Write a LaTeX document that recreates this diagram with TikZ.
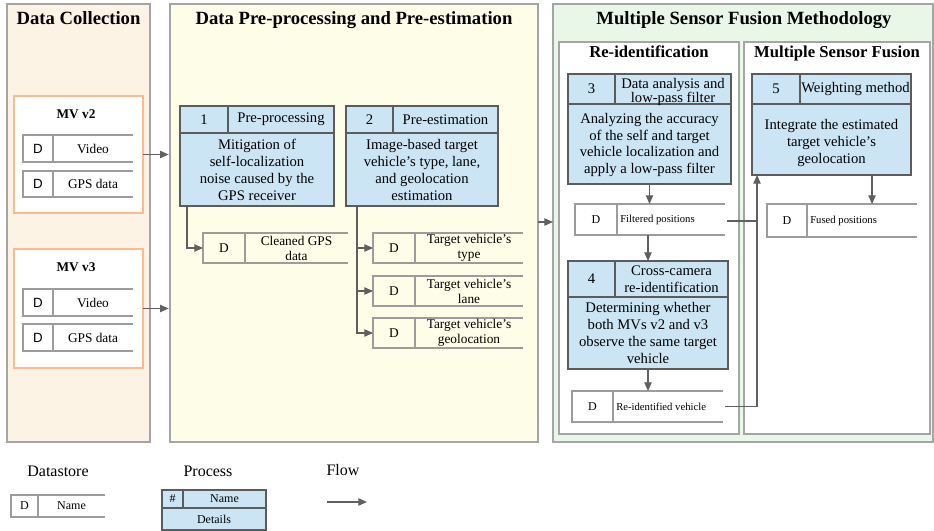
\documentclass[tikz,border=0pt]{standalone}
\usepackage{fontspec}
\setmainfont{Liberation Serif}[BoldFont={Liberation Serif Bold}, ItalicFont={Liberation Serif Italic}]
\newfontfamily\dssans{Liberation Sans}
\usetikzlibrary{arrows.meta,fit,calc}

\definecolor{dcfill}{HTML}{FDF3E4}
\definecolor{prefill}{HTML}{FDFDE8}
\definecolor{msffill}{HTML}{E9F7E9}
\definecolor{procfill}{HTML}{CCE5F4}
\definecolor{mvline}{HTML}{FDBA90}
\definecolor{panelline}{HTML}{A5A5A5}
\definecolor{dsline}{HTML}{9C9C9C}
\definecolor{procline}{HTML}{5C5C5C}
\definecolor{flowline}{HTML}{606060}

\tikzset{
  region/.style={inner sep=0pt, outer sep=0pt},
  panel/.style={draw=panelline, line width=1.1pt},
  ptitle/.style={font=\fontsize{14}{16}\selectfont\bfseries, anchor=base, inner sep=0pt},
  stitle/.style={font=\fontsize{12.5}{14}\selectfont\bfseries, anchor=base, inner sep=0pt},
  mvtitle/.style={font=\fontsize{10}{12}\selectfont\bfseries, anchor=base, inner sep=0pt},
  mvbox/.style={draw=mvline, line width=2.2pt, fill=white},
  dsedge/.style={draw=dsline, line width=1.3pt},
  dslabel/.style={inner sep=0pt},
  dstext/.style={font=\fontsize{10}{11.25}\selectfont, align=center, inner sep=0pt},
  dssmall/.style={font=\fontsize{8}{9}\selectfont, anchor=west, inner sep=0pt},
  procedge/.style={draw=procline, line width=0.9pt},
  ptext/.style={font=\fontsize{11}{12.75}\selectfont, align=center, inner sep=0pt},
  ltitle/.style={font=\fontsize{12}{14}\selectfont, anchor=base, inner sep=0pt},
  ltext/.style={font=\fontsize{9}{10}\selectfont, inner sep=0pt},
  flow/.style={draw=flowline, line width=0.9pt, -{Triangle[length=6.5pt,width=5.5pt]}},
  conn/.style={draw=flowline, line width=0.9pt},
}

% a named rectangle drawn with the given style
\newcommand\boxat[6]{%
  \coordinate (#1-nw) at (#2,#3);
  \coordinate (#1-se) at (#4,#5);
  \node[region, fit=(#1-nw)(#1-se)] (#1) {};
  \draw[#6] (#1.north west) rectangle (#1.south east);
}

% datastore: open on the right, "D" cell on the left
\newcommand\dstore[7]{% name, left, top, right, bottom, divider x, D font
  \coordinate (#1-nw) at (#2,#3);
  \coordinate (#1-se) at (#4,#5);
  \node[region, fit=(#1-nw)(#1-se)] (#1) {};
  \draw[dsedge] (#1.north east) -- (#1.north west) -- (#1.south west) -- (#1.south east);
  \draw[dsedge] (#6,#3) -- (#6,#5);
  \node[dslabel, font=#7] (#1-d) at ({(#2+#6)/2},{(#3+#5)/2}) {D};
  \coordinate (#1-t) at ({(#6+#4)/2},{(#3+#5)/2});
  \coordinate (#1-l) at ({#6+3},{(#3+#5)/2});
}

% process: number cell and name in the header, details below
\newcommand\proc[7]{% name, left, top, right, bottom, header bottom, divider x
  \boxat{#1}{#2}{#3}{#4}{#5}{procedge, fill=procfill}
  \draw[procedge] (#2,#6) -- (#4,#6);
  \draw[procedge] (#7,#3) -- (#7,#6);
  \coordinate (#1-n) at ({(#2+#7)/2},{(#3+#6)/2});
  \coordinate (#1-h) at ({(#7+#4)/2},{(#3+#6)/2});
  \coordinate (#1-b) at ({(#2+#4)/2},{(#6+#5)/2});
}

\begin{document}
\begin{tikzpicture}[x=0.75pt,y=-0.75pt]
\useasboundingbox (0,0) rectangle (934,531);

% ---------- panels ----------
\boxat{pdc}{7}{4}{150}{442}{panel, fill=dcfill}
\boxat{ppre}{170}{4}{538}{442}{panel, fill=prefill}
\boxat{pmsf}{553}{4}{933}{442}{panel, fill=msffill}
\boxat{preid}{559}{42}{739}{434}{panel, fill=white}
\boxat{pfus}{744}{42}{930}{434}{panel, fill=white}

\node[ptitle] (tdc) at (78.5,25) {Data Collection};
\node[ptitle] (tpre) at (354,25) {Data Pre-processing and Pre-estimation};
\node[ptitle] (tmsf) at (744,25) {Multiple Sensor Fusion Methodology};
\node[stitle] (treid) at (649,58) {Re-identification};
\node[stitle] (tfus) at (837,58) {Multiple Sensor Fusion};

% ---------- data collection ----------
\boxat{mv2}{14}{96}{143}{213}{mvbox}
\node[mvtitle] (tmv2) at (76,118) {MV v2};
\dstore{v2vid}{23}{135}{133}{162}{53}{\dssans\fontsize{10}{11}\selectfont}
\node[dstext] (v2vidt) at (v2vid-t) {Video};
\dstore{v2gps}{23}{171}{133}{197}{53}{\dssans\fontsize{10}{11}\selectfont}
\node[dstext] (v2gpst) at (v2gps-t) {GPS data};

\boxat{mv3}{14}{249}{143}{368}{mvbox}
\node[mvtitle] (tmv3) at (76,271) {MV v3};
\dstore{v3vid}{23}{289}{133}{316}{53}{\dssans\fontsize{10}{11}\selectfont}
\node[dstext] (v3vidt) at (v3vid-t) {Video};
\dstore{v3gps}{23}{324}{133}{351}{53}{\dssans\fontsize{10}{11}\selectfont}
\node[dstext] (v3gpst) at (v3gps-t) {GPS data};

% ---------- pre-processing and pre-estimation ----------
\proc{p1}{180}{106}{334}{206}{133}{228}
\node[ptext] (p1n) at (p1-n) {1};
\node[ptext] (p1h) at (p1-h) {Pre-processing};
\node[ptext] (p1b) at (p1-b) {Mitigation of\\self-localization\\noise caused by the\\GPS receiver};

\proc{p2}{346}{106}{498}{206}{133}{393}
\node[ptext] (p2n) at (p2-n) {2};
\node[ptext] (p2h) at (p2-h) {Pre-estimation};
\node[ptext] (p2b) at (p2-b) {Image-based target\\vehicle’s type, lane,\\and geolocation\\estimation};

\dstore{cgps}{203}{233}{348}{263}{245}{\fontsize{10}{11}\selectfont}
\node[dstext] (cgpst) at (cgps-t) {Cleaned GPS\\data};
\dstore{ttype}{373}{233}{523}{263}{415}{\fontsize{10}{11}\selectfont}
\node[dstext] (ttypet) at (ttype-t) {Target vehicle’s\\type};
\dstore{tlane}{373}{276}{523}{306}{415}{\fontsize{10}{11}\selectfont}
\node[dstext] (tlanet) at (tlane-t) {Target vehicle’s\\lane};
\dstore{tgeo}{373}{318}{523}{348}{415}{\fontsize{10}{11}\selectfont}
\node[dstext] (tgeot) at (tgeo-t) {Target vehicle’s\\geolocation};

% ---------- re-identification ----------
\proc{p3}{568}{74}{731}{184}{104}{615}
\node[ptext] (p3n) at (p3-n) {3};
\node[ptext, font=\fontsize{11}{10.5}\selectfont] (p3h) at ($(p3-h)+(0,3)$) {Data analysis and\\low-pass filter};
\node[ptext, font=\fontsize{11}{12.5}\selectfont] (p3b) at ($(p3-b)+(0,1)$) {Analyzing the accuracy\\of the self and target\\vehicle localization and\\apply a low-pass filter};

\dstore{fpos}{575}{204}{725}{235}{617}{\fontsize{9}{10}\selectfont}
\node[dssmall] (fpost) at (fpos-l) {Filtered positions};

\proc{p4}{568}{261}{728}{369}{297}{615}
\node[ptext] (p4n) at (p4-n) {4};
\node[ptext] (p4h) at (p4-h) {Cross-camera\\re-identification};
\node[ptext] (p4b) at (p4-b) {Determining whether\\both MVs v2 and v3\\observe the same target\\vehicle};

\dstore{rid}{572}{391}{723}{422}{613}{\fontsize{9}{10}\selectfont}
\node[dssmall] (ridt) at (rid-l) {Re-identified vehicle};

% ---------- multiple sensor fusion ----------
\proc{p5}{752}{74}{911}{175}{104}{800}
\node[ptext] (p5n) at (p5-n) {5};
\node[ptext] (p5h) at (p5-h) {Weighting method};
\node[ptext] (p5b) at ($(p5-b)+(0,3)$) {Integrate the estimated\\target vehicle’s\\geolocation};

\dstore{fused}{767}{204}{917}{237}{807}{\fontsize{9}{10}\selectfont}
\node[dssmall] (fusedt) at (fused-l) {Fused positions};

% ---------- flows ----------
\draw[flow, shorten >=1pt] (mv2.east) -- (mv2.east -| ppre.west);
\draw[flow, shorten >=1pt] (mv3.east) -- (mv3.east -| ppre.west);

\draw[flow] ($(p1.south west)+(7,0)$) |- (cgps.west);
\coordinate (p2out) at ($(p2.south west)+(11,0)$);
\draw[flow] (p2out) |- (ttype.west);
\draw[flow] (p2out) |- (tlane.west);
\draw[flow] (p2out) |- (tgeo.west);

\coordinate (midy) at (0,222);
\draw[flow] (ppre.east |- midy) -- (pmsf.west |- midy);

\draw[flow] (p3.south) -- (p3.south |- fpos.north);
\draw[flow] (p4.north |- fpos.south) -- (p4.north);
\draw[flow] (p4.south) -- (p4.south |- rid.north);

\coordinate (jx) at ($(p5.south west)+(5,0)$);
\draw[conn] ($(fpos.east)+(2,1.5)$) -- ($(fpos.east -| jx)+(0,1.5)$);
\draw[flow] ($(rid.east)+(2,0)$) -| (jx);

\coordinate (p5out) at ($(p5.south east)+(-39,0)$);
\draw[flow] (p5out) -- (p5out |- fused.north);

% ---------- legend ----------
\node[ltitle] (lgds) at (58,476) {Datastore};
\dstore{lds}{11}{495}{105}{517}{38}{\fontsize{9}{10}\selectfont}
\node[ltext] (ldst) at (lds-t) {Name};

\node[ltitle] (lgproc) at (208,476) {Process};
\proc{lproc}{162}{490}{266}{530}{508}{183}
\node[ltext] (lprocn) at (lproc-n) {\#};
\node[ltext] (lproch) at (lproc-h) {Name};
\node[ltext] (lprocb) at (lproc-b) {Details};

\node[ltitle] (lgflow) at (343,475) {Flow};
\coordinate (lf1) at (327,502);
\coordinate (lf2) at (367,502);
\draw[flow] (lf1) -- (lf2);
\end{tikzpicture}
\end{document}
